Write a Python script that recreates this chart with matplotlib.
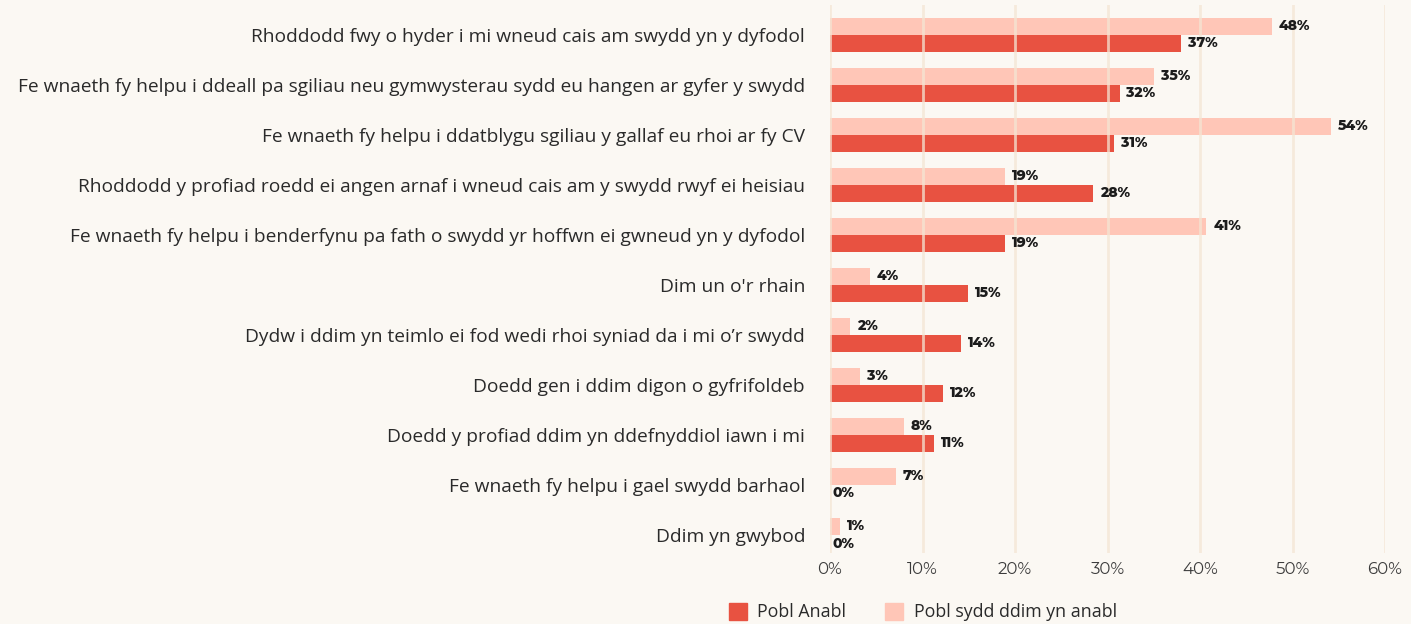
import matplotlib
matplotlib.use("Agg")
import matplotlib.pyplot as plt
import numpy as np
from matplotlib.patches import Patch

categories = [
    "Rhoddodd fwy o hyder i mi wneud cais am swydd yn y dyfodol",
    "Fe wnaeth fy helpu i ddeall pa sgiliau neu gymwysterau sydd eu hangen ar gyfer y swydd",
    "Fe wnaeth fy helpu i ddatblygu sgiliau y gallaf eu rhoi ar fy CV",
    "Rhoddodd y profiad roedd ei angen arnaf i wneud cais am y swydd rwyf ei heisiau",
    "Fe wnaeth fy helpu i benderfynu pa fath o swydd yr hoffwn ei gwneud yn y dyfodol",
    "Dim un o'r rhain",
    "Dydw i ddim yn teimlo ei fod wedi rhoi syniad da i mi o\u2019r swydd",
    "Doedd gen i ddim digon o gyfrifoldeb",
    "Doedd y profiad ddim yn ddefnyddiol iawn i mi",
    "Fe wnaeth fy helpu i gael swydd barhaol",
    "Ddim yn gwybod",
]
# bar lengths (%)
disabled = [37.9, 31.3, 30.7, 28.4, 18.9, 14.9, 14.2, 12.2, 11.2, 0, 0]
non_disabled = [47.8, 35.0, 54.2, 18.9, 40.7, 4.3, 2.2, 3.2, 8.0, 7.1, 1.1]
# printed labels
disabled_labels = ["37%", "32%", "31%", "28%", "19%", "15%", "14%", "12%", "11%", "0%", "0%"]
non_disabled_labels = ["48%", "35%", "54%", "19%", "41%", "4%", "2%", "3%", "8%", "7%", "1%"]
xticks = [0, 10, 20, 30, 40, 50, 60]
series_names = ["Pobl Anabl", "Pobl sydd ddim yn anabl"]

DARK = "#E85241"
LIGHT = "#FFC6B7"
BG = "#FBF8F3"
GRID = "#F4E6D4"
TXT = "#2a2a2a"

NUMFONT = ['Montserrat Alternates', 'Open Sans', 'DejaVu Sans']
TEXTFONT = ['Open Sans', 'DejaVu Sans']
plt.rcParams['font.family'] = TEXTFONT

fig = plt.figure(figsize=(14.11, 6.24), dpi=100, facecolor=BG)
ax = fig.add_axes([830/1411, 1-553/624, 555/1411, 548/624], facecolor=BG)

y = np.arange(len(categories))
h = 0.34
ax.barh(y - h/2, non_disabled, height=h, color=LIGHT, zorder=2)
ax.barh(y + h/2, disabled, height=h, color=DARK, zorder=2)

for i in range(len(categories)):
    ax.annotate(non_disabled_labels[i], (non_disabled[i], y[i] - h/2),
                xytext=(5, 0), textcoords="offset points", va="center", ha="left",
                fontsize=10, fontweight=800, family=NUMFONT, color="#1c1c1c", zorder=4)
    ax.annotate(disabled_labels[i], (disabled[i], y[i] + h/2),
                xytext=(5 if disabled[i] > 0 else 2, 0), textcoords="offset points",
                va="center", ha="left",
                fontsize=10, fontweight=800, family=NUMFONT, color="#1c1c1c", zorder=4)

ax.set_xlim(0, 60)
ax.set_ylim(10.36, -0.6)
ax.set_xticks(xticks)
ax.set_xticklabels([f"{t}%" for t in xticks], fontsize=12, color="#3c3c3c",
                   fontweight=400, family=NUMFONT)
ax.set_yticks(y)
ax.set_yticklabels(categories, fontsize=13.8, color=TXT)
ax.tick_params(axis="y", length=0, pad=18)
ax.tick_params(axis="x", length=0, pad=6)
for s in ax.spines.values():
    s.set_visible(False)
ax.xaxis.grid(True, color=GRID, linewidth=2, alpha=0.75, zorder=3)
ax.set_axisbelow(False)

handles = [Patch(color=DARK), Patch(color=LIGHT)]
fig.legend(handles, series_names, loc="center", bbox_to_anchor=(923/1411, 1-612/624),
           ncol=2, frameon=False, handlelength=1.0, handleheight=1.1,
           handletextpad=0.6, columnspacing=2.2, labelcolor=TXT,
           prop={'size': 12.8, 'family': TEXTFONT})

fig.savefig("out.png", dpi=100, facecolor=BG)
